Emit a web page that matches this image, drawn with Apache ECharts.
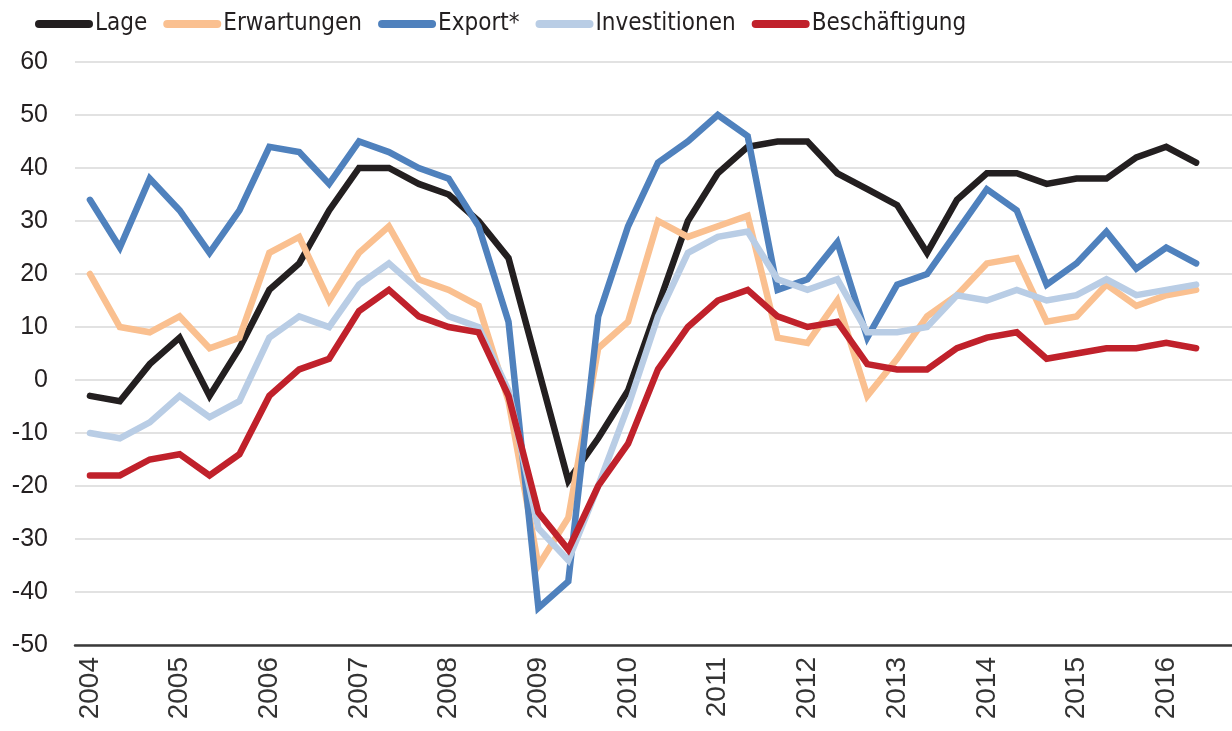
<!DOCTYPE html>
<html>
<head>
<meta charset="utf-8">
<script src="https://cdn.jsdelivr.net/npm/echarts@6/dist/echarts.min.js"></script>
<style>
  html, body { margin: 0; padding: 0; background: #fff; overflow: hidden; }
  #chart { width: 1232px; height: 731px; }
</style>
</head>
<body>
<div id="chart"></div>
<script>
// three readings per year, 2004 .. 2016; x = reading index
const years = [2004, 2005, 2006, 2007, 2008, 2009, 2010, 2011, 2012, 2013, 2014, 2015, 2016];
const perYear = 3;

const lage = [-3, -4, 3, 8, -3, 6, 17, 22, 32, 40, 40, 37, 35, 30, 23, 2, -19, -11, -2, 14,
  30, 39, 44, 45, 45, 39, 36, 33, 24, 34, 39, 39, 37, 38, 38, 42, 44, 41];
const erwartungen = [20, 10, 9, 12, 6, 8, 24, 27, 15, 24, 29, 19, 17, 14, -4, -35, -26, 6, 11, 30,
  27, 29, 31, 8, 7, 15, -3, 4, 12, 16, 22, 23, 11, 12, 18, 14, 16, 17];
const export_ = [34, 25, 38, 32, 24, 32, 44, 43, 37, 45, 43, 40, 38, 29, 11, -43, -38, 12, 29, 41,
  45, 50, 46, 17, 19, 26, 8, 18, 20, 28, 36, 32, 18, 22, 28, 21, 25, 22];
const investitionen = [-10, -11, -8, -3, -7, -4, 8, 12, 10, 18, 22, 17, 12, 10, -2, -28, -34, -20, -5, 12,
  24, 27, 28, 19, 17, 19, 9, 9, 10, 16, 15, 17, 15, 16, 19, 16, 17, 18];
const beschaeftigung = [-18, -18, -15, -14, -18, -14, -3, 2, 4, 13, 17, 12, 10, 9, -3, -25, -32, -20, -12, 2,
  10, 15, 17, 12, 10, 11, 3, 2, 2, 6, 8, 9, 4, 5, 6, 6, 7, 6];

const seriesNames = ['Lage', 'Erwartungen', 'Export*', 'Investitionen', 'Beschäftigung'];
const seriesData = [lage, erwartungen, export_, investitionen, beschaeftigung];
const colors = ['#231f20', '#fac090', '#4f81bd', '#b9cde5', '#c0212b'];

const capsule = 'path://M4,0 L54,0 A4,4 0 0 1 54,8 L4,8 A4,4 0 0 1 4,0 Z';
const yearTicks = years.map((y, i) => i * perYear);

let chart = echarts.init(document.getElementById('chart'));
chart.setOption({
  animation: false,
  color: colors,
  legend: {
    left: 30,
    top: 7,
    itemWidth: 58,
    itemHeight: 8,
    itemGap: 16,
    icon: capsule,
    textStyle: {
      fontFamily: "'Liberation Sans Narrow', 'DejaVu Sans Condensed', sans-serif",
      fontSize: 24,
      color: '#231f20',
      padding: [0, 0, 0, -3]
    },
    data: seriesNames
  },
  grid: {
    left: 75,
    right: 0,
    top: 62,
    bottom: 86
  },
  xAxis: {
    type: 'value',
    min: -0.5,
    max: 38.2,   // slot width ~30px, the grid runs past the last reading
    axisLine: { onZero: false, lineStyle: { color: '#3a3a3a', width: 2.5 } },
    axisTick: { show: false },
    axisLabel: {
      customValues: yearTicks,
      formatter: v => String(years[Math.round(v / perYear)]),
      rotate: 90,
      margin: 12,
      fontFamily: "'Liberation Sans', Arial, sans-serif",
      fontSize: 28,
      color: '#333'
    },
    splitLine: { show: false }
  },
  yAxis: {
    type: 'value',
    min: -50,
    max: 60,
    interval: 10,
    axisLine: { show: false },
    axisTick: { show: false },
    axisLabel: {
      margin: 27,
      fontFamily: "'Liberation Sans', Arial, sans-serif",
      fontSize: 25,
      color: '#231f20'
    },
    splitLine: { lineStyle: { color: '#d9d9d9', width: 1.5 } }
  },
  series: seriesNames.map((name, i) => ({
    name: name,
    type: 'line',
    data: seriesData[i].map((v, k) => [k, v]),
    showSymbol: false,
    symbol: 'none',
    lineStyle: { width: 6.5, color: colors[i], cap: 'round', join: 'miter' }
  }))
});
window.onresize = () => {
  chart.resize();
};
</script>
</body>
</html>
